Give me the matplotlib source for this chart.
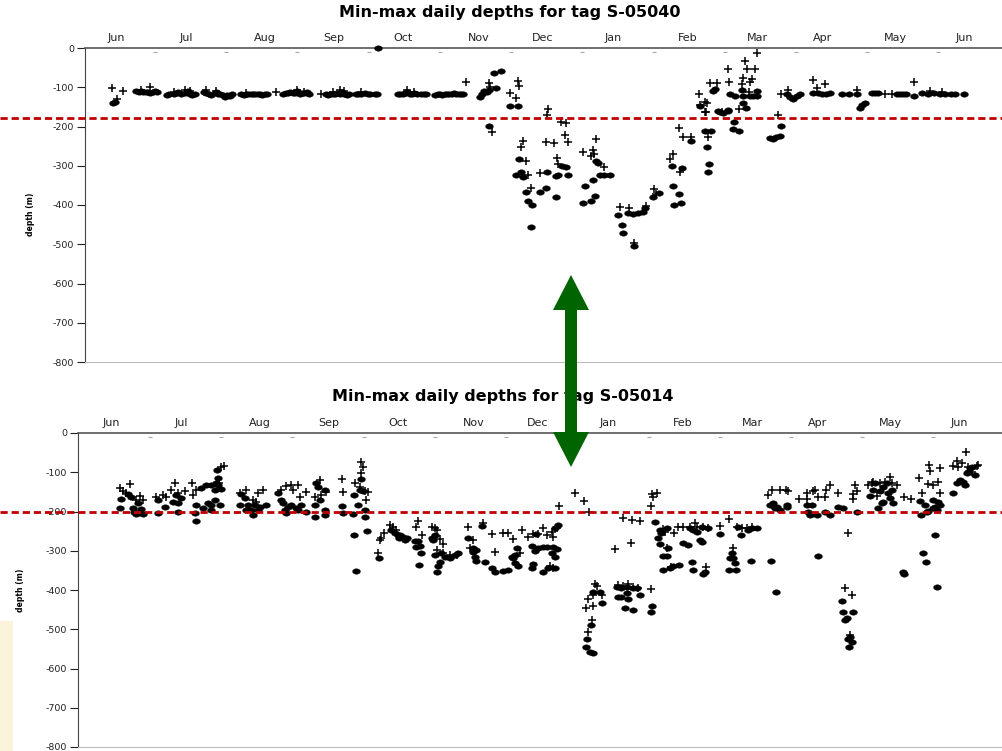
import matplotlib
matplotlib.use("Agg")
import numpy as np
from matplotlib import pyplot as plt
from matplotlib.patches import Polygon, Rectangle
from matplotlib.path import Path

# days counted from 1 June, depth in metres (negative = below surface)
months = ["Jun", "Jul", "Aug", "Sep", "Oct", "Nov", "Dec", "Jan", "Feb", "Mar", "Apr", "May", "Jun"]
month_days = [13.5, 43.5, 77, 106.5, 136, 168.5, 196, 226, 258, 288, 316, 347, 376.5]
minor_days = [30, 60.5, 91, 121.5, 152, 182.5, 213, 243.5, 274, 304.5, 335, 365.5]
depth_ticks = [0, -100, -200, -300, -400, -500, -600, -700, -800]

tag_top = "S-05040"
tag_bottom = "S-05014"
threshold_top = -178
threshold_bottom = -201

# tag S-05040: daily minimum depth (+) and maximum depth (dots)
top_min = [
    (11.6, -101), (16.3, -110), (13.7, -130), (24, -108), (27.8, -100), (38, -112), (43, -108),
    (45, -110), (52, -108), (56, -110), (69, -115), (82, -112), (91, -108), (94, -112),
    (101, -117), (106, -113), (109, -108), (111, -110), (118, -113), (138, -108), (141, -112),
    (163, -86), (173, -90), (173.5, -99), (182, -115), (184.5, -128), (185.5, -84), (185.8, -97),
    (174.5, -213), (187.6, -236), (186.7, -251), (188.9, -288), (189.7, -324), (191, -357),
    (198.3, -155), (197.9, -170), (197.4, -240), (200.9, -243), (202, -280), (202.6, -296),
    (194.9, -319), (203.9, -188), (206, -191), (205.6, -222), (206.9, -240), (213.3, -264),
    (217.6, -260), (218, -270), (218.8, -232), (216.7, -275), (222.3, -303), (229.1, -404),
    (233, -408), (240.3, -403), (235.1, -496), (243.7, -359), (244.5, -372), (250.5, -283),
    (251.8, -270), (254.8, -315), (254.4, -203), (256.1, -226), (259.5, -226), (266.8, -227),
    (263.4, -145), (266.4, -139), (265.5, -164), (263, -117), (265.5, -138), (267.7, -89),
    (270.7, -89), (275.4, -54), (265.9, -162), (275.8, -87), (272.8, -162), (282.7, -33),
    (287.8, -14), (283.5, -54), (286.9, -54), (281.8, -77), (285.7, -79), (281.4, -92),
    (284.8, -87), (284.4, -112), (280.1, -155), (296.8, -171), (298.1, -117), (301.1, -107),
    (311.8, -82), (313.5, -102), (316.9, -92), (330.6, -107), (342.6, -117), (345.6, -117),
    (355, -86), (362, -110), (367, -112),
]
top_max = [
    (12, -140), (13, -137),
    (22, -110), (23, -112), (24, -110), (25, -113), (26, -112), (27, -111), (28, -114), (29, -112),
    (30, -110), (31, -113),
    (35, -120), (36, -118), (38, -117), (39, -115), (40, -113), (41, -117), (43, -115), (44, -110),
    (45, -118), (46, -120), (47, -117),
    (51, -113), (52, -115), (53, -118), (54, -120), (56, -113), (57, -116), (58, -118), (59, -121),
    (60, -124), (61, -119), (62, -122), (63, -117),
    (67, -117), (68, -119), (69, -117), (70, -118), (71, -116), (72, -118), (73, -117), (74, -116),
    (75, -117), (76, -119), (77, -117), (78, -116),
    (85, -116), (86, -115), (87, -114), (88, -113), (89, -115), (90, -114), (91, -110), (92, -116),
    (93, -114), (94, -115), (95, -113), (96, -116),
    (103, -118), (104, -120), (105, -117), (106, -116), (107, -118), (108, -115), (109, -117),
    (110, -113), (111, -116), (112, -119), (113, -117),
    (116, -118), (117, -116), (118, -117), (120, -115), (121, -118), (122, -117), (124, -116),
    (125, -118), (125.5, 0),
    (134, -118), (135, -116), (136, -117), (137, -114), (138, -112), (139, -116), (140, -118),
    (141, -115), (142, -117), (144, -116), (145, -118), (146, -117),
    (150, -120), (151, -118), (152, -117), (153, -119), (154, -117), (155, -116), (156, -118),
    (157, -117), (158, -115), (159, -117), (160, -116), (161, -118), (162, -117),
    (169, -125), (170, -118), (171, -110), (172, -112), (173, -108), (176, -102), (175, -64),
    (178, -58), (182, -148), (185.5, -148), (173, -198),
    (185.9, -283), (186.7, -315), (184.6, -324), (187.6, -328), (188.9, -367), (189.7, -391),
    (191.4, -400), (191, -455), (204.3, -300), (206, -303), (197.9, -315), (201.7, -326),
    (202.6, -324), (206.9, -324), (194.9, -367), (197.4, -356), (201.7, -380), (218.8, -288),
    (219.7, -293), (220.6, -324), (222.3, -324), (224.8, -324), (217.6, -336), (214.1, -351),
    (218.4, -376), (213.3, -395), (216.7, -391),
    (228.3, -425), (232.5, -421), (234.7, -424), (236.8, -420), (239, -418), (239.8, -408),
    (230, -452), (230.4, -472), (235.1, -504), (243.3, -379), (245.8, -370),
    (251.4, -300), (255.7, -306), (251.8, -352), (254.4, -372), (255.2, -395), (252.2, -400),
    (259.5, -236), (265.5, -211), (268.1, -211), (266.4, -251), (267.2, -296), (266.8, -315),
    (263.4, -148), (271.1, -160), (273.2, -166), (275.4, -160), (269, -110), (270, -104),
    (272, -162),
    (275.4, -158), (276.2, -117), (278.4, -122), (281.4, -107), (287.8, -109), (281.8, -122),
    (284.8, -122), (286.1, -122), (287.8, -122), (281.8, -139), (283.1, -152), (278, -188),
    (277.5, -206), (280.1, -211), (298.1, -199), (293.4, -229), (294.6, -232), (295.9, -227),
    (297.6, -225),
    (300.6, -117), (301.9, -125), (303.2, -130), (304.9, -122), (306.2, -117), (311.8, -115),
    (313.9, -114), (315.6, -117), (317.3, -118), (319.1, -115), (324.2, -117), (327.2, -117),
    (330.6, -117), (331.9, -153), (332.8, -145), (334, -140), (337, -115), (338.3, -115),
    (339.6, -115), (347.8, -117), (349, -117), (350.3, -117), (351.6, -117), (355, -122),
    (358.5, -115), (361, -116), (363.5, -114), (366, -116), (368.5, -117), (371, -116),
    (372.6, -118), (376.4, -117),
]

# tag S-05014
bottom_min = [
    (17, -141), (18.4, -147), (21.3, -131), (19.8, -152), (25.6, -160), (27, -171), (24.1, -171),
    (32.7, -162), (35.5, -158), (37, -162), (39, -145), (42, -154), (44.8, -149), (40.5, -128),
    (48.1, -128), (49.8, -145), (48.4, -158), (60.5, -86), (61.5, -84), (59.5, -128),
    (68.4, -154), (71.2, -144), (74.1, -171), (76.2, -154), (78.4, -145), (75.5, -175),
    (86.2, -145), (88.4, -135), (90.5, -132), (93.4, -132), (91.2, -145), (94.1, -162), (97, -151),
    (102.6, -120), (105.5, -151), (103.4, -158), (100.5, -162), (112.4, -118), (112.6, -151),
    (117.6, -128), (120.5, -103), (120.5, -73), (121.2, -86), (121.9, -149), (123.3, -151),
    (122.6, -171), (119.8, -137),
    (128.3, -273), (129, -268), (130.2, -256), (132.6, -234), (134, -240), (135.5, -247),
    (127.6, -307), (144.9, -223), (144.1, -239), (146.3, -260),
    (150.6, -240), (152.7, -247), (152, -241), (154.1, -271), (155.6, -283), (152.7, -298),
    (155.6, -307), (158.4, -311), (161.3, -311),
    (166.3, -239), (168.4, -273), (167, -294), (172.7, -230), (176.3, -258), (177.7, -302),
    (181.3, -254), (183.4, -254), (185.5, -271), (189.5, -247), (188.4, -307),
    (192, -264), (194.1, -257), (196.2, -258), (198.4, -243), (199.8, -260), (202, -251),
    (202.7, -264), (204.1, -243), (201.2, -339), (202.7, -345),
    (205.2, -186), (212, -152), (215.8, -173), (218.1, -200),
    (220.5, -385), (221.2, -390), (217.7, -422), (219.8, -413), (223.4, -413), (216.9, -445),
    (219.5, -441), (219.1, -476), (217.7, -506),
    (229.1, -296), (232.4, -217), (236.2, -222), (239.8, -224), (235.9, -281),
    (230.5, -386), (232.6, -389), (234.8, -385), (236.9, -392), (239.1, -396), (244.4, -398),
    (244.8, -155), (245.5, -162), (246.9, -152), (244.4, -186),
    (249.7, -245), (250.5, -251), (253.3, -341), (251.2, -294), (254.3, -254), (256.2, -240),
    (258.4, -240), (261.2, -240), (263.3, -230), (264.1, -240),
    (266.9, -240), (269.1, -243), (274.1, -237), (278.1, -220), (281.2, -240), (283.3, -243),
    (285.5, -243), (287.6, -240), (268.1, -341), (279.8, -294),
    (294.8, -158), (296.2, -145), (299.8, -145), (302.3, -144), (303.3, -149),
    (308, -169), (311.2, -169), (311.2, -154), (314, -149), (314.8, -145), (316.2, -164),
    (319, -164), (319.7, -144), (321.2, -132), (324.7, -152), (331.2, -155), (331.9, -132),
    (332.6, -147), (331.2, -169), (328.7, -256), (327.6, -396), (330.5, -413), (329.7, -515),
    (337.6, -132), (339.7, -126), (342.6, -128), (344.7, -124), (346.9, -111), (347.6, -128),
    (349.7, -132), (341.2, -160), (339, -128),
    (352.9, -164), (356.1, -169), (359.4, -115), (360.4, -152), (363.3, -130), (364, -98),
    (363.7, -82), (365.4, -132), (367.6, -124), (368.3, -152), (368.3, -90),
    (379.4, -48), (375.4, -71), (377.6, -77), (374, -84), (376.1, -86), (380.4, -86),
    (384.7, -82), (381.8, -99), (384, -84),
]
bottom_max = [
    (17.7, -168), (20.6, -155), (22, -162), (17, -192), (22.7, -192), (24.1, -206), (27, -206),
    (24.8, -179), (26.3, -194), (25, -205), (23, -200),
    (33.4, -171), (36.3, -188), (39.8, -175), (42, -179), (33.4, -205), (42, -200), (43.4, -166),
    (41.3, -158),
    (49.8, -183), (49.1, -205), (49.8, -223), (52, -141), (54.1, -132), (56.2, -132),
    (57.7, -145), (59.1, -132), (52.7, -192), (54.8, -179), (56.2, -183), (57.7, -171),
    (59.8, -183), (56, -196), (58.8, -94), (59.1, -115), (58.4, -128), (60.2, -143),
    (69.1, -156), (70.5, -166), (68.4, -183), (72, -183), (73.4, -196), (74.8, -183),
    (74.1, -209), (76.9, -188), (79.8, -183), (71.2, -196), (76.2, -196),
    (84.8, -154), (86.2, -171), (87, -179), (89.1, -188), (90.5, -183), (92.6, -192),
    (87.6, -196), (93.4, -196), (94.8, -183), (97, -200), (88.4, -203),
    (100.5, -183), (101.2, -128), (101.9, -137), (104.8, -145), (100.5, -215), (104.8, -209),
    (102.6, -171), (104.8, -196), (112.4, -186), (112.6, -203),
    (117.3, -158), (120.5, -118), (121.2, -149), (119.1, -183), (116.9, -206), (122.2, -215),
    (123.1, -250), (117.3, -259), (118.1, -351), (119.8, -145), (122, -196),
    (127.9, -319), (133.3, -247), (134.8, -256), (136.2, -260), (136.5, -268),
    (138.4, -264), (139.9, -268), (137, -260), (139.1, -273),
    (144.9, -274), (145.6, -288), (144.1, -291), (145.9, -307), (145.1, -336), (143.4, -274),
    (150.6, -268), (152, -260), (151.3, -273), (152, -311), (154.8, -307), (156.3, -315),
    (158.4, -319), (160.6, -311), (162, -307), (154.1, -328), (153.4, -340), (152.7, -353),
    (166.3, -267), (168.4, -294), (169.8, -298), (169.1, -315), (169.8, -325), (172, -237),
    (173.4, -328), (176.3, -345), (177.7, -355), (168.4, -302),
    (181.3, -351), (183.4, -349), (184.8, -315), (186.3, -311), (187, -294), (187.7, -340),
    (185.5, -319), (186.3, -332),
    (193.4, -288), (194.8, -300), (196.2, -294), (198.4, -291), (199.8, -291), (202.7, -290),
    (204.1, -296), (204.8, -234), (203.4, -243), (202, -307), (203.4, -315), (193.4, -345),
    (198.4, -353), (200.5, -345), (203.4, -345), (194.1, -334), (195.5, -258),
    (219.5, -404), (222.7, -404), (223.4, -434), (218.7, -489), (217.2, -526), (216.7, -546),
    (218.4, -557), (219.5, -561),
    (229.8, -392), (231.9, -396), (234.1, -392), (236.9, -396), (238.4, -396), (239.8, -413),
    (230.5, -417), (231.9, -419), (234.8, -424), (233.4, -447), (236.9, -451), (244.8, -441),
    (244.4, -455), (234.1, -408),
    (246.2, -228), (248.3, -247), (249, -256), (251.2, -243), (247.6, -268), (248.3, -283),
    (249.7, -313), (251.2, -313), (251.9, -294), (249.7, -349), (252.6, -345), (254.1, -340),
    (256.6, -336),
    (258.4, -281), (260.5, -285), (261.9, -328), (262.6, -349), (261.2, -243), (264.1, -251),
    (262.6, -247),
    (266.2, -240), (269.1, -243), (274.1, -257), (281.9, -240), (282.9, -260), (286.2, -247),
    (287.6, -243), (289.8, -243), (265.5, -273), (266.2, -277),
    (267.6, -353), (266.9, -359), (279.1, -307), (279.8, -319), (278.3, -319), (280.5, -332),
    (278.1, -349), (280.9, -349), (287.2, -325), (295.8, -325), (298.1, -406),
    (295.5, -183), (296.9, -179), (298.3, -188), (297.6, -192), (299.8, -196), (302.6, -188),
    (302.9, -183), (296.2, -183),
    (311.2, -183), (313.3, -183), (311.9, -200), (312.6, -209), (315.5, -209), (319, -200),
    (321.2, -209), (324.7, -188), (326.9, -192), (332.6, -200), (316.2, -313),
    (326.2, -428), (326.9, -457), (331.2, -457), (328.3, -472), (327.6, -476), (329.7, -519),
    (330.5, -532), (329.5, -544), (329, -526),
    (338.3, -160), (339.7, -145), (340.4, -128), (342.6, -149), (344, -137), (345.4, -128),
    (347.6, -145), (346.2, -154), (346.9, -166), (348.3, -179), (343.3, -179), (344, -175),
    (341.9, -192),
    (359.7, -172), (361.9, -183), (365.4, -171), (367.6, -177), (368.3, -183), (362.6, -200),
    (365.4, -192), (360.1, -209), (363.3, -199), (366.9, -196), (366.1, -188),
    (361.1, -305), (362.3, -328), (366.3, -260), (366.9, -392), (352.9, -358), (352.3, -353),
    (373.7, -154), (375.4, -128), (376.9, -120), (379, -132), (378.3, -124), (380.4, -99),
    (381.8, -86), (383.3, -107), (379.7, -103), (381.1, -90),
]

W, H = 1002, 751
PX_PER_DAY = 2.335

# flattened dot, a bit wider than tall like the scanned markers
_t = np.linspace(0, 2 * np.pi, 33)
ELLIPSE = Path(np.column_stack([np.cos(_t), 0.7 * np.sin(_t)]), closed=True)


def add_panel(fig, left_px, top_px, origin_px, tag, mins, maxs, threshold, label_xy):
    right_px = 1010
    bottom_px = top_px + 314
    ax = fig.add_axes([left_px / W, 1 - bottom_px / H, (right_px - left_px) / W, 314 / H])
    ax.set_xlim((left_px - origin_px) / PX_PER_DAY, (right_px - origin_px) / PX_PER_DAY)
    ax.set_ylim(-800, 0)

    ax.plot([d for d, _ in mins], [v for _, v in mins], linestyle="none", marker="+",
            ms=6, mew=1.1, color="black", clip_on=False, zorder=3)
    ax.plot([d for d, _ in maxs], [v for _, v in maxs], linestyle="none", marker=ELLIPSE,
            ms=5.6, color="black", mec="black", mew=0.3, clip_on=False, zorder=3)

    # tiny day markers just under the top axis line
    ax.plot(minor_days, [-10] * len(minor_days), linestyle="none", marker="_",
            ms=3, mew=0.8, color="#aaaaaa")

    ax.set_xticks(month_days)
    ax.set_xticklabels(months)
    ax.xaxis.tick_top()
    ax.tick_params(axis="x", length=0, pad=3.5, labelsize=8, colors="#222222")
    ax.set_yticks(depth_ticks)
    ax.set_yticklabels([str(t) for t in depth_ticks])
    ax.tick_params(axis="y", length=6, width=0.8, pad=2, labelsize=6.8, colors="#222222")

    ax.spines["right"].set_visible(False)
    ax.spines["top"].set_color("#555555")
    ax.spines["top"].set_linewidth(1.2)
    ax.spines["left"].set_color("#444444")
    ax.spines["bottom"].set_color("#bbbbbb")

    ax.set_ylabel("depth (m)", fontsize=5.6, fontweight="bold")
    ax.yaxis.set_label_coords(*label_xy)

    ax_w = right_px - left_px
    ax.axhline(threshold, xmin=-left_px / ax_w, xmax=(W - left_px) / ax_w,
               color="#c00000", lw=2, dashes=(2.6, 1.4), clip_on=False, zorder=4)

    fig.text((left_px + 425) / W, 1 - (top_px - 36) / H,
             "Min-max daily depths for tag " + tag,
             ha="center", va="center", fontsize=11.5, fontweight="bold")
    return ax


def main():
    fig = plt.figure(figsize=(W / 100, H / 100), dpi=100)

    fig.patches.append(Rectangle((0, 0), 13 / W, 130 / H, transform=fig.transFigure,
                                 facecolor="#fbf3dc", edgecolor="none", zorder=0))

    add_panel(fig, 85, 48, 85, tag_top, top_min, top_max, threshold_top, (-0.054, 0.47))
    add_panel(fig, 78, 433, 80, tag_bottom, bottom_min, bottom_max, threshold_bottom,
              (-0.057, 0.5))

    # green double-headed arrow between the panels
    arrow_px = [(571, 275), (589, 310), (577, 310), (577, 432), (589, 432), (571, 467),
                (553, 432), (565, 432), (565, 310), (553, 310)]
    arrow = Polygon([(x / W, 1 - y / H) for x, y in arrow_px], closed=True,
                    transform=fig.transFigure, facecolor="#006400", edgecolor="none", zorder=10)
    fig.add_artist(arrow)

    fig.savefig("out.png", dpi=100)


if __name__ == "__main__":
    main()
